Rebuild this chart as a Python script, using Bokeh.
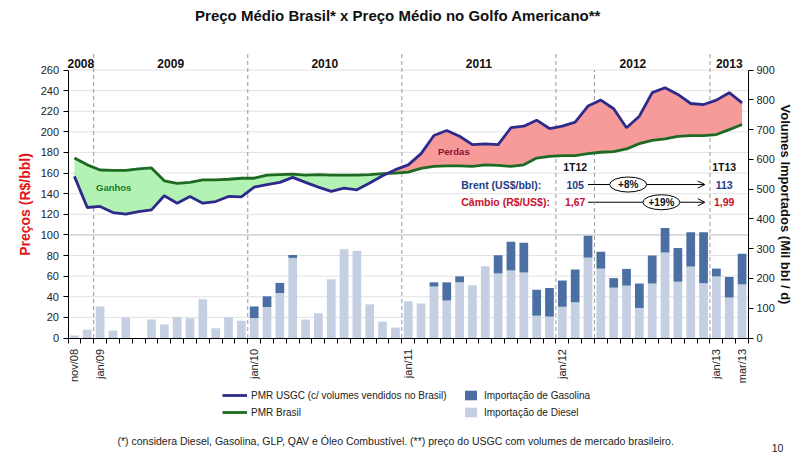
import math
from bokeh.plotting import figure
from bokeh.models import (Range1d, LinearAxis, FixedTicker, Label, Legend, LegendItem,
                          Arrow, OpenHead, ColumnDataSource)
from bokeh.embed import file_html
from bokeh.resources import INLINE

FONT = "Liberation Sans"

# ---------------- data ----------------
months = ["nov/08", "dez/08",
          "jan/09", "fev/09", "mar/09", "abr/09", "mai/09", "jun/09", "jul/09", "ago/09", "set/09", "out/09", "nov/09", "dez/09",
          "jan/10", "fev/10", "mar/10", "abr/10", "mai/10", "jun/10", "jul/10", "ago/10", "set/10", "out/10", "nov/10", "dez/10",
          "jan/11", "fev/11", "mar/11", "abr/11", "mai/11", "jun/11", "jul/11", "ago/11", "set/11", "out/11", "nov/11", "dez/11",
          "jan/12", "fev/12", "mar/12", "abr/12", "mai/12", "jun/12", "jul/12", "ago/12", "set/12", "out/12", "nov/12", "dez/12",
          "jan/13", "fev/13", "mar/13"]
shown_labels = ["nov/08", "jan/09", "jan/10", "jan/11", "jan/12", "jan/13", "mar/13"]
years = ["2008", "2009", "2010", "2011", "2012", "2013"]

pmr_usgc = [156.8, 126.6, 127.6, 121.7, 120.1, 122.7, 124.3, 138.0, 130.8, 137.3, 130.8, 132.4, 137.3, 137.0,
            146.4, 148.7, 151.0, 155.8, 151.0, 146.4, 142.2, 145.4, 143.8, 150.3, 157.4, 163.3,
            168.0, 178.9, 196.4, 201.3, 195.7, 187.6, 188.3, 187.6, 204.0, 205.5, 211.3, 203.2,
            205.5, 209.4, 225.0, 230.8, 222.4, 203.9, 215.2, 238.0, 242.8, 236.3, 227.5, 226.5,
            230.8, 238.0, 228.2]
pmr_brasil = [174.6, 168.0, 163.0, 162.6, 162.6, 164.0, 165.0, 152.5, 150.0, 151.0, 153.5, 153.5, 154.0, 155.0,
              155.0, 158.0, 158.5, 159.0, 158.0, 158.5, 158.0, 158.0, 158.0, 158.5, 159.5, 160.0,
              161.0, 164.5, 166.5, 167.0, 167.0, 166.5, 168.0, 167.5, 166.5, 168.0, 174.6, 176.3,
              176.9, 176.9, 178.9, 180.2, 180.8, 183.4, 188.6, 191.8, 193.1, 195.7, 196.4, 196.4,
              197.4, 202.2, 207.1]
imp_diesel = [8, 28, 106, 25, 69, 0, 62, 45, 70, 66, 130, 33, 70, 58,
              67, 104, 151, 269, 62, 83, 197, 298, 292, 113, 55, 35,
              123, 116, 173, 126, 187, 177, 241, 217, 227, 220, 75, 72,
              105, 120, 270, 233, 169, 176, 101, 183, 287, 189, 240, 184,
              207, 136, 180]
imp_gasolina = [0, 0, 0, 0, 0, 0, 0, 0, 0, 0, 0, 0, 0, 0,
                39, 36, 34, 10, 0, 0, 0, 0, 0, 0, 0, 0,
                0, 0, 14, 61, 20, 0, 0, 61, 96, 100, 87, 96,
                88, 110, 73, 57, 32, 56, 82, 94, 82, 113, 115, 171,
                26, 69, 103]

quarters = ["1T12", "1T13"]
brent = ["105", "113"]
cambio = ["1,67", "1,99"]
brent_var = "+8%"
cambio_var = "+19%"

TITLE = "Preço Médio Brasil* x Preço Médio no Golfo Americano**"
FOOTNOTE = "(*) considera Diesel, Gasolina, GLP, QAV e Óleo Combustível. (**) preço do USGC com volumes de mercado brasileiro."
PAGE = "10"

# ---------------- geometry ----------------
W, H = 812, 456
n = len(months)
xs = list(range(n))
PX_LEFT, PX_RIGHT = 67.5, 748.0      # screen x of the chart's left / right axes
PX_ZERO, PX_260 = 337.5, 69.5        # screen y of 0 and 260
ppx = (PX_RIGHT - PX_LEFT) / n
ppy = (PX_ZERO - PX_260) / 260.0
x0, x1 = -0.5 - PX_LEFT / ppx, n - 0.5 + (W - PX_RIGHT) / ppx
y0, y1 = -(H - PX_ZERO) / ppy, PX_ZERO / ppy
VOL = 900 / 260.0
TOP_DIV = (PX_ZERO - 52) / ppy

p = figure(width=W, height=H, output_backend="svg", toolbar_location=None,
           x_range=Range1d(x0, x1), y_range=Range1d(y0, y1),
           min_border=0, outline_line_color=None,
           background_fill_color="white", border_fill_color="white")
p.title.visible = False
p.extra_y_ranges = {"vol": Range1d(y0 * VOL, y1 * VOL)}
p.xgrid.visible = False
p.ygrid.visible = False

# left axis (fixed at the first category edge)
ly = p.yaxis[0]
ly.fixed_location = -0.5
ly.ticker = FixedTicker(ticks=list(range(0, 261, 20)))
ly.bounds = (0, 260)
ly.major_tick_out = 5
ly.major_tick_in = 0
ly.minor_tick_line_color = None
ly.axis_line_color = "black"
ly.major_tick_line_color = "black"
ly.major_label_text_font = FONT
ly.major_label_text_font_size = "11px"
ly.major_label_text_color = "#222222"
ly.major_label_standoff = 4
ly.axis_label = "Preços (R$/bbl)"
ly.axis_label_text_font = FONT
ly.axis_label_text_font_size = "14px"
ly.axis_label_text_font_style = "bold"
ly.axis_label_text_color = "#e3141c"
ly.axis_label_standoff = 5

# right axis
ry = LinearAxis(y_range_name="vol", ticker=FixedTicker(ticks=list(range(0, 901, 100))),
                bounds=(0, 900), fixed_location=n - 0.5)
ry.major_tick_out = 5
ry.major_tick_in = 0
ry.minor_tick_line_color = None
ry.axis_line_color = "black"
ry.major_label_text_font = FONT
ry.major_label_text_font_size = "11px"
ry.major_label_text_color = "#222222"
ry.major_label_standoff = 3
ry.axis_label = "Volumes Importados (Mil bbl / d)"
ry.axis_label_text_font = FONT
ry.axis_label_text_font_size = "13px"
ry.axis_label_text_font_style = "bold"
ry.axis_label_text_color = "#111111"
ry.axis_label_standoff = 0
p.add_layout(ry, "right")

# bottom axis
shown_idx = [months.index(m) for m in shown_labels]
bx = p.xaxis[0]
bx.fixed_location = 0
bx.bounds = (-0.5, n - 0.5)
bx.ticker = FixedTicker(ticks=shown_idx, minor_ticks=[i - 0.5 for i in range(n + 1)])
bx.major_label_overrides = {i: months[i] for i in shown_idx}
bx.major_label_orientation = math.pi / 2
bx.major_tick_out = 0
bx.major_tick_in = 0
bx.minor_tick_out = 5
bx.minor_tick_in = 0
bx.minor_tick_line_color = "black"
bx.axis_line_color = "black"
bx.major_label_text_font = FONT
bx.major_label_text_font_size = "11px"
bx.major_label_text_color = "#222222"
bx.major_label_standoff = 6

# horizontal guide lines at the left-axis ticks
grid_ticks = list(range(20, 261, 20))
p.segment(x0=[-0.5] * len(grid_ticks), y0=grid_ticks, x1=[n - 0.5] * len(grid_ticks), y1=grid_ticks,
          line_color=["#bcbcbc" if t == 100 else "#e2e2e2" for t in grid_ticks], line_width=1, level="underlay")

# year dividers and end of 1T12
year_starts = [i for i, m in enumerate(months) if m.startswith("jan")]
p.segment(x0=[b - 0.5 for b in year_starts], y0=[0] * len(year_starts),
          x1=[b - 0.5 for b in year_starts], y1=[TOP_DIV] * len(year_starts),
          line_color="#999999", line_dash="4 3", line_width=1)
q_idx = months.index("abr/12") - 0.5
p.segment(x0=[q_idx], y0=[0], x1=[q_idx], y1=[260], line_color="#999999", line_dash="4 3", line_width=1)

# year labels
bounds = [0] + year_starts + [n]
for k, yr in enumerate(years):
    cx = (bounds[k] + bounds[k + 1] - 1) / 2
    p.add_layout(Label(x=cx, y=266, text=yr, text_font=FONT, text_font_size="12px",
                       text_font_style="bold", text_align="center", text_baseline="middle",
                       text_color="#111111"))

# bars
src = ColumnDataSource(dict(x=xs, diesel=imp_diesel, gasolina=imp_gasolina))
bars = p.vbar_stack(["diesel", "gasolina"], x="x", width=0.68, source=src,
                    color=["#c4cfe2", "#4b6ea3"], line_color=None, y_range_name="vol")

# fills between lines (with crossing points)
fx, fu, fb = [xs[0]], [pmr_usgc[0]], [pmr_brasil[0]]
for i in range(1, n):
    d0 = pmr_usgc[i - 1] - pmr_brasil[i - 1]
    d1 = pmr_usgc[i] - pmr_brasil[i]
    if d0 * d1 < 0:
        t = d0 / (d0 - d1)
        xc = xs[i - 1] + t * (xs[i] - xs[i - 1])
        yc = pmr_usgc[i - 1] + t * (pmr_usgc[i] - pmr_usgc[i - 1])
        fx.append(xc); fu.append(yc); fb.append(yc)
    fx.append(xs[i]); fu.append(pmr_usgc[i]); fb.append(pmr_brasil[i])
upper_g = [max(a, b) for a, b in zip(fu, fb)]
p.varea(x=fx, y1=fu, y2=upper_g, fill_color="#b2f2b2")
p.varea(x=fx, y1=fb, y2=upper_g, fill_color="#f69a9a")

l_br = p.line(xs, pmr_brasil, line_color="#1d6a22", line_width=2.8)
l_us = p.line(xs, pmr_usgc, line_color="#2e2a8c", line_width=2.8)

# text in the chart
p.add_layout(Label(x=1.68, y=145.7, text="Ganhos", text_font=FONT, text_font_size="9.5px",
                   text_font_style="bold", text_color="#1e7a24", text_baseline="middle"))
p.add_layout(Label(x=29.55, y=181.2, text="Perdas", text_font=FONT, text_font_size="9.5px",
                   text_font_style="bold", text_color="#8a1030", text_align="center", text_baseline="middle"))

y_q, y_b, y_c = 165.5, 148.9, 131.7
x_q = [39.0, 50.6]
for k in range(2):
    p.add_layout(Label(x=x_q[k], y=y_q, text=quarters[k], text_font=FONT, text_font_size="10.5px",
                       text_font_style="bold", text_color="#111111", text_align="center", text_baseline="middle"))
    p.add_layout(Label(x=x_q[k], y=y_b, text=brent[k], text_font=FONT, text_font_size="10.5px",
                       text_font_style="bold", text_color="#1f3c88", text_align="center", text_baseline="middle"))
    p.add_layout(Label(x=x_q[k], y=y_c, text=cambio[k], text_font=FONT, text_font_size="10.5px",
                       text_font_style="bold", text_color="#c8102e", text_align="center", text_baseline="middle"))
p.add_layout(Label(x=30.13, y=y_b, text="Brent (US$/bbl):", text_font=FONT, text_font_size="10.5px",
                   text_font_style="bold", text_color="#1f3c88", text_baseline="middle"))
p.add_layout(Label(x=30.13, y=y_c, text="Câmbio (R$/US$):", text_font=FONT, text_font_size="10.5px",
                   text_font_style="bold", text_color="#c8102e", text_baseline="middle"))
for yy in (y_b, y_c):
    p.add_layout(Arrow(end=OpenHead(size=7, line_width=1, line_color="black"), x_start=40.0, y_start=yy,
                       x_end=49.1, y_end=yy, line_width=1, line_color="black", level="underlay"))
p.ellipse(x=[43.13, 45.72], y=[y_b, y_c], width=37, height=15, width_units="screen", height_units="screen",
          fill_color="white", line_color="black", line_width=1)
p.add_layout(Label(x=43.13, y=y_b, text=brent_var, text_font=FONT, text_font_size="10px",
                   text_font_style="bold", text_color="#111111", text_align="center", text_baseline="middle"))
p.add_layout(Label(x=45.72, y=y_c, text=cambio_var, text_font=FONT, text_font_size="10px",
                   text_font_style="bold", text_color="#111111", text_align="center", text_baseline="middle"))

# legends (screen units from the bottom-left corner)
common = dict(orientation="vertical", border_line_color=None, background_fill_alpha=0,
              padding=0, margin=0, spacing=5, glyph_height=12, label_height=12,
              label_text_font=FONT, label_text_font_size="10px", label_text_color="#222222")
leg1 = Legend(items=[LegendItem(label="PMR USGC (c/ volumes vendidos no Brasil)", renderers=[l_us]),
                     LegendItem(label="PMR Brasil", renderers=[l_br])],
              location=(222, 38), glyph_width=25, label_standoff=4, **common)
leg2 = Legend(items=[LegendItem(label="Importação de Gasolina", renderers=[bars[1]]),
                     LegendItem(label="Importação de Diesel", renderers=[bars[0]])],
              location=(463, 38), glyph_width=15, label_standoff=6, **common)
p.add_layout(leg1)
p.add_layout(leg2)

# title, footnote, page number
p.add_layout(Label(x=397.5, y=H - 15, x_units="screen", y_units="screen", text=TITLE,
                   text_font=FONT, text_font_size="15px", text_font_style="bold",
                   text_color="#111111", text_align="center", text_baseline="middle"))
p.add_layout(Label(x=117, y=H - 440, x_units="screen", y_units="screen", text=FOOTNOTE,
                   text_font=FONT, text_font_size="10.5px", text_color="#222222",
                   text_align="left", text_baseline="middle"))
p.add_layout(Label(x=777, y=H - 447, x_units="screen", y_units="screen", text=PAGE,
                   text_font=FONT, text_font_size="10.5px", text_color="#222222",
                   text_align="center", text_baseline="middle"))

open("out.html", "w").write(file_html(p, INLINE))
